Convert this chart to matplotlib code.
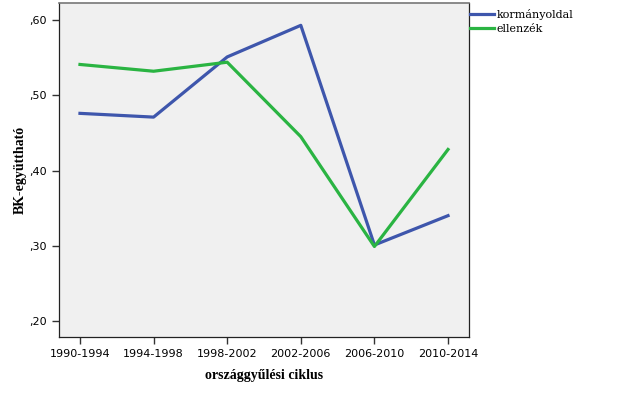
import matplotlib
matplotlib.use("Agg")
import matplotlib.pyplot as plt
from matplotlib.ticker import FuncFormatter

# election cycles
ciklusok = ["1990-1994", "1994-1998", "1998-2002", "2002-2006", "2006-2010", "2010-2014"]
kormanyoldal = [0.476, 0.471, 0.551, 0.593, 0.301, 0.340]
ellenzek = [0.541, 0.532, 0.544, 0.445, 0.299, 0.428]

fig = plt.figure(figsize=(6.26, 3.94), dpi=100)
ax = fig.add_axes([59/626, 57/394, 410/626, 334/394])
ax.set_facecolor("#f0f0f0")

x = range(len(ciklusok))
ax.plot(x, kormanyoldal, color="#3e56ac", lw=2.3, label="kormányoldal")
ax.plot(x, ellenzek, color="#2ab442", lw=2.3, label="ellenzék")

ax.set_xlim(-0.285, 5.285)
ax.set_ylim(0.1787, 0.6227)
ax.set_xticks(list(x))
ax.set_xticklabels(ciklusok, fontsize=8, family="DejaVu Sans")
ax.set_yticks([0.2, 0.3, 0.4, 0.5, 0.6])
ax.yaxis.set_major_formatter(FuncFormatter(lambda v, p: ("%.2f" % v).lstrip("0").replace(".", ",")))
for t in ax.get_yticklabels():
    t.set_fontsize(8)
    t.set_family("DejaVu Sans")
ax.tick_params(length=5, width=1, color="#333333")

for s in ax.spines.values():
    s.set_color("#222222")
    s.set_linewidth(0.9)
ax.spines["top"].set_color("#777777")
ax.spines["top"].set_linewidth(1.2)

ax.set_xlabel("országgyűlési ciklus", fontsize=10, fontweight="bold", family="Liberation Serif", labelpad=7)
ax.set_ylabel("BK-együttható", fontsize=10, fontweight="bold", family="Liberation Serif", labelpad=2)

leg = ax.legend(loc="upper left", bbox_to_anchor=(1.0, 0.985), frameon=False,
                prop={"family": "DejaVu Serif", "size": 8}, handlelength=2.15,
                handletextpad=0.25, borderaxespad=0.0, borderpad=0.1, labelspacing=0.35)

fig.savefig("out.png", dpi=100)
